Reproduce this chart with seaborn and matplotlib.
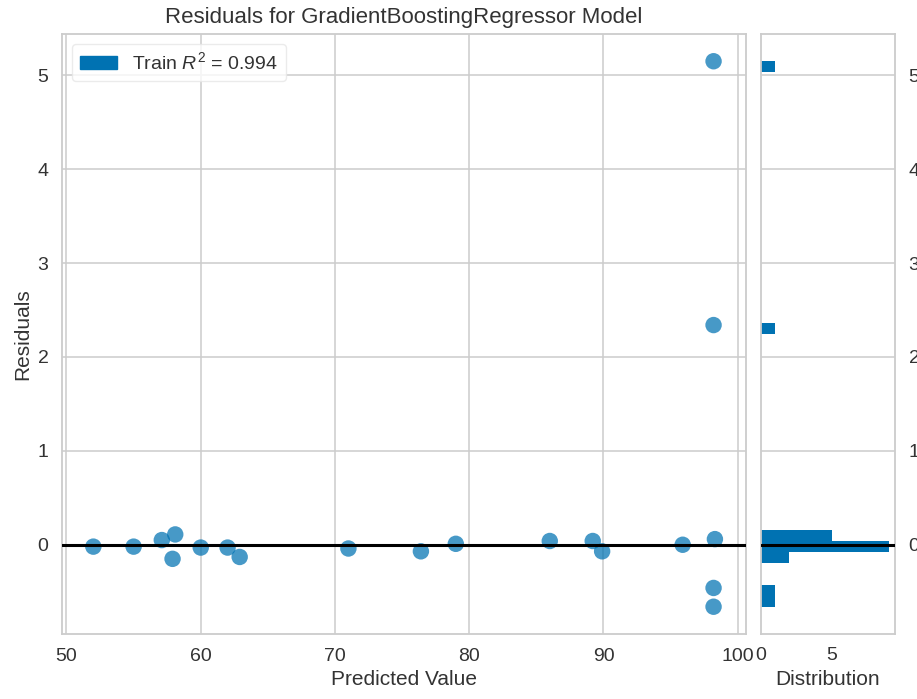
import matplotlib
matplotlib.use("Agg")
import matplotlib.pyplot as plt
import seaborn as sns
import numpy as np
import pandas as pd

predicted = [52.0, 55.0, 57.1, 58.1, 57.9, 60.0, 62.0, 62.9, 71.0, 76.4,
             79.0, 86.0, 89.2, 89.9, 95.9, 98.3, 98.2, 98.2, 98.2, 98.2]
residuals = [-0.02, -0.02, 0.05, 0.11, -0.15, -0.03, -0.03, -0.13, -0.04, -0.07,
             0.01, 0.04, 0.04, -0.07, 0.00, 0.06, -0.46, -0.66, 5.15, 2.34]
r2_label = "Train $R^2$ = 0.994"
title = "Residuals for GradientBoostingRegressor Model"

df = pd.DataFrame({"Predicted Value": predicted, "Residuals": residuals})

sns.set_theme(style="whitegrid")
plt.rcParams["font.family"] = ["Liberation Sans", "DejaVu Sans"]
text_color = "#333333"
grid_color = "#cccccc"
plt.rcParams.update({
    "text.color": text_color,
    "axes.labelcolor": text_color,
    "xtick.color": text_color,
    "ytick.color": text_color,
    "axes.edgecolor": grid_color,
    "grid.color": grid_color,
    "axes.linewidth": 1.3,
    "grid.linewidth": 1.1,
    "mathtext.fontset": "custom",
    "mathtext.rm": "Liberation Sans",
    "mathtext.it": "Liberation Sans:italic",
    "mathtext.bf": "Liberation Sans:bold",
})

blue = "#0072B2"
fig = plt.figure(figsize=(9.17, 6.99), dpi=100)
ax = fig.add_axes([0.0679, 0.0930, 0.7456, 0.8584])
hax = fig.add_axes([0.8296, 0.0930, 0.1468, 0.8584], sharey=ax)

sns.scatterplot(data=df, x="Predicted Value", y="Residuals", ax=ax, color=blue,
                alpha=0.72, s=140, edgecolor="none", legend=False)
ax.axhline(0, color="black", lw=2.2, zorder=3)
ax.set_title(title, fontsize=16, pad=8)
ax.set_xlabel("Predicted Value", fontsize=15)
ax.set_ylabel("Residuals", fontsize=15)
ax.tick_params(labelsize=14, pad=4)
ax.set_xticks([50, 60, 70, 80, 90, 100])
ax.set_yticks([0, 1, 2, 3, 4, 5])

from matplotlib.patches import Patch
ax.legend(handles=[Patch(color=blue, label=r2_label)], loc="upper left",
          fontsize=14, frameon=True, facecolor="white", edgecolor="#e6e6e6",
          handlelength=1.9, handleheight=0.7, borderpad=0.4,
          handletextpad=0.8)

sns.histplot(y=residuals, bins=50, ax=hax, color=blue, alpha=1.0,
             edgecolor="none", linewidth=0)
hax.axhline(0, color="black", lw=2.2, zorder=3)
hax.grid(False, axis="x")
hax.grid(True, axis="y")
hax.yaxis.tick_right()
hax.tick_params(labelsize=14, left=False, right=False)
hax.set_ylabel("")
hax.set_xlabel("Distribution", fontsize=15)
hax.set_xticks([0, 5])
plt.setp(hax.get_yticklabels(), visible=True)

fig.savefig("out.png", dpi=100)
